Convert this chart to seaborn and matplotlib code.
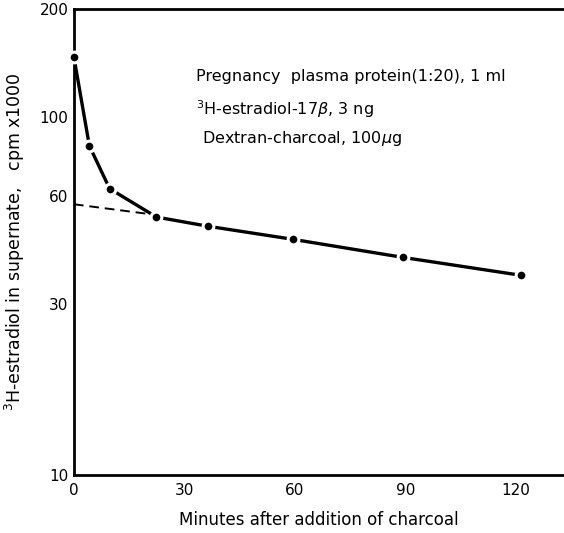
import matplotlib
matplotlib.use("Agg")
import matplotlib.pyplot as plt
import seaborn as sns
import pandas as pd

# Data
minutes = [0, 4.2, 9.7, 22.4, 36.3, 59.4, 89.3, 121.3]
cpm_x1000 = [147, 83, 63, 52.5, 49.5, 45.5, 40.5, 36.1]

# Extrapolated slow component (dashed)
extrap_minutes = [0, 20]
extrap_cpm = [57, 53.6]

y_ticks = [10, 30, 60, 100, 200]
x_ticks = [0, 30, 60, 90, 120]

sns.set_theme(style="white")
plt.rcParams['font.family'] = ['DejaVu Sans']
plt.rcParams['text.color'] = 'black'
plt.rcParams['axes.labelcolor'] = 'black'

df = pd.DataFrame({"t": minutes, "v": cpm_x1000})
df_ex = pd.DataFrame({"t": extrap_minutes, "v": extrap_cpm})

fig = plt.figure(figsize=(5.64, 5.33), dpi=100)
ax = fig.add_axes([0.131, 0.109, 0.869, 0.874])

sns.lineplot(data=df_ex, x="t", y="v", ax=ax, color="black", lw=1.4,
             linestyle=(0, (5, 3)), zorder=2)
sns.lineplot(data=df, x="t", y="v", ax=ax, color="black", lw=2.4, zorder=3)
sns.scatterplot(data=df, x="t", y="v", ax=ax, color="black", s=60,
                edgecolor="white", linewidth=2.2, zorder=4, clip_on=False)

ax.set_yscale("log")
ax.set_ylim(10, 200)
ax.set_xlim(0, 133)
ax.set_yticks(y_ticks)
ax.set_yticklabels([str(v) for v in y_ticks])
ax.minorticks_off()
ax.set_xticks(x_ticks)
ax.set_xticklabels([str(v) for v in x_ticks])

ax.tick_params(direction="in", length=9, width=1.4, labelsize=11,
               colors="black", pad=4)
ax.tick_params(axis="x", pad=6)

for side in ["left", "bottom", "top"]:
    ax.spines[side].set_visible(True)
    ax.spines[side].set_linewidth(2)
    ax.spines[side].set_color("black")
ax.spines["right"].set_visible(False)

ax.set_xlabel("Minutes after addition of charcoal", fontsize=12, labelpad=9)
ax.set_ylabel(r"$^3$H-estradiol in supernate,   cpm x1000", fontsize=12.5, labelpad=9)

ax.text(0.25, 0.855, "Pregnancy  plasma protein(1:20), 1 ml", transform=ax.transAxes,
        fontsize=11.5, ha="left", va="center")
ax.text(0.25, 0.785, r"$^3$H-estradiol-17$\beta$, 3 ng", transform=ax.transAxes,
        fontsize=11.5, ha="left", va="center")
ax.text(0.262, 0.722, r"Dextran-charcoal, 100$\mu$g", transform=ax.transAxes,
        fontsize=11.5, ha="left", va="center")

fig.savefig("out.png", dpi=100)
